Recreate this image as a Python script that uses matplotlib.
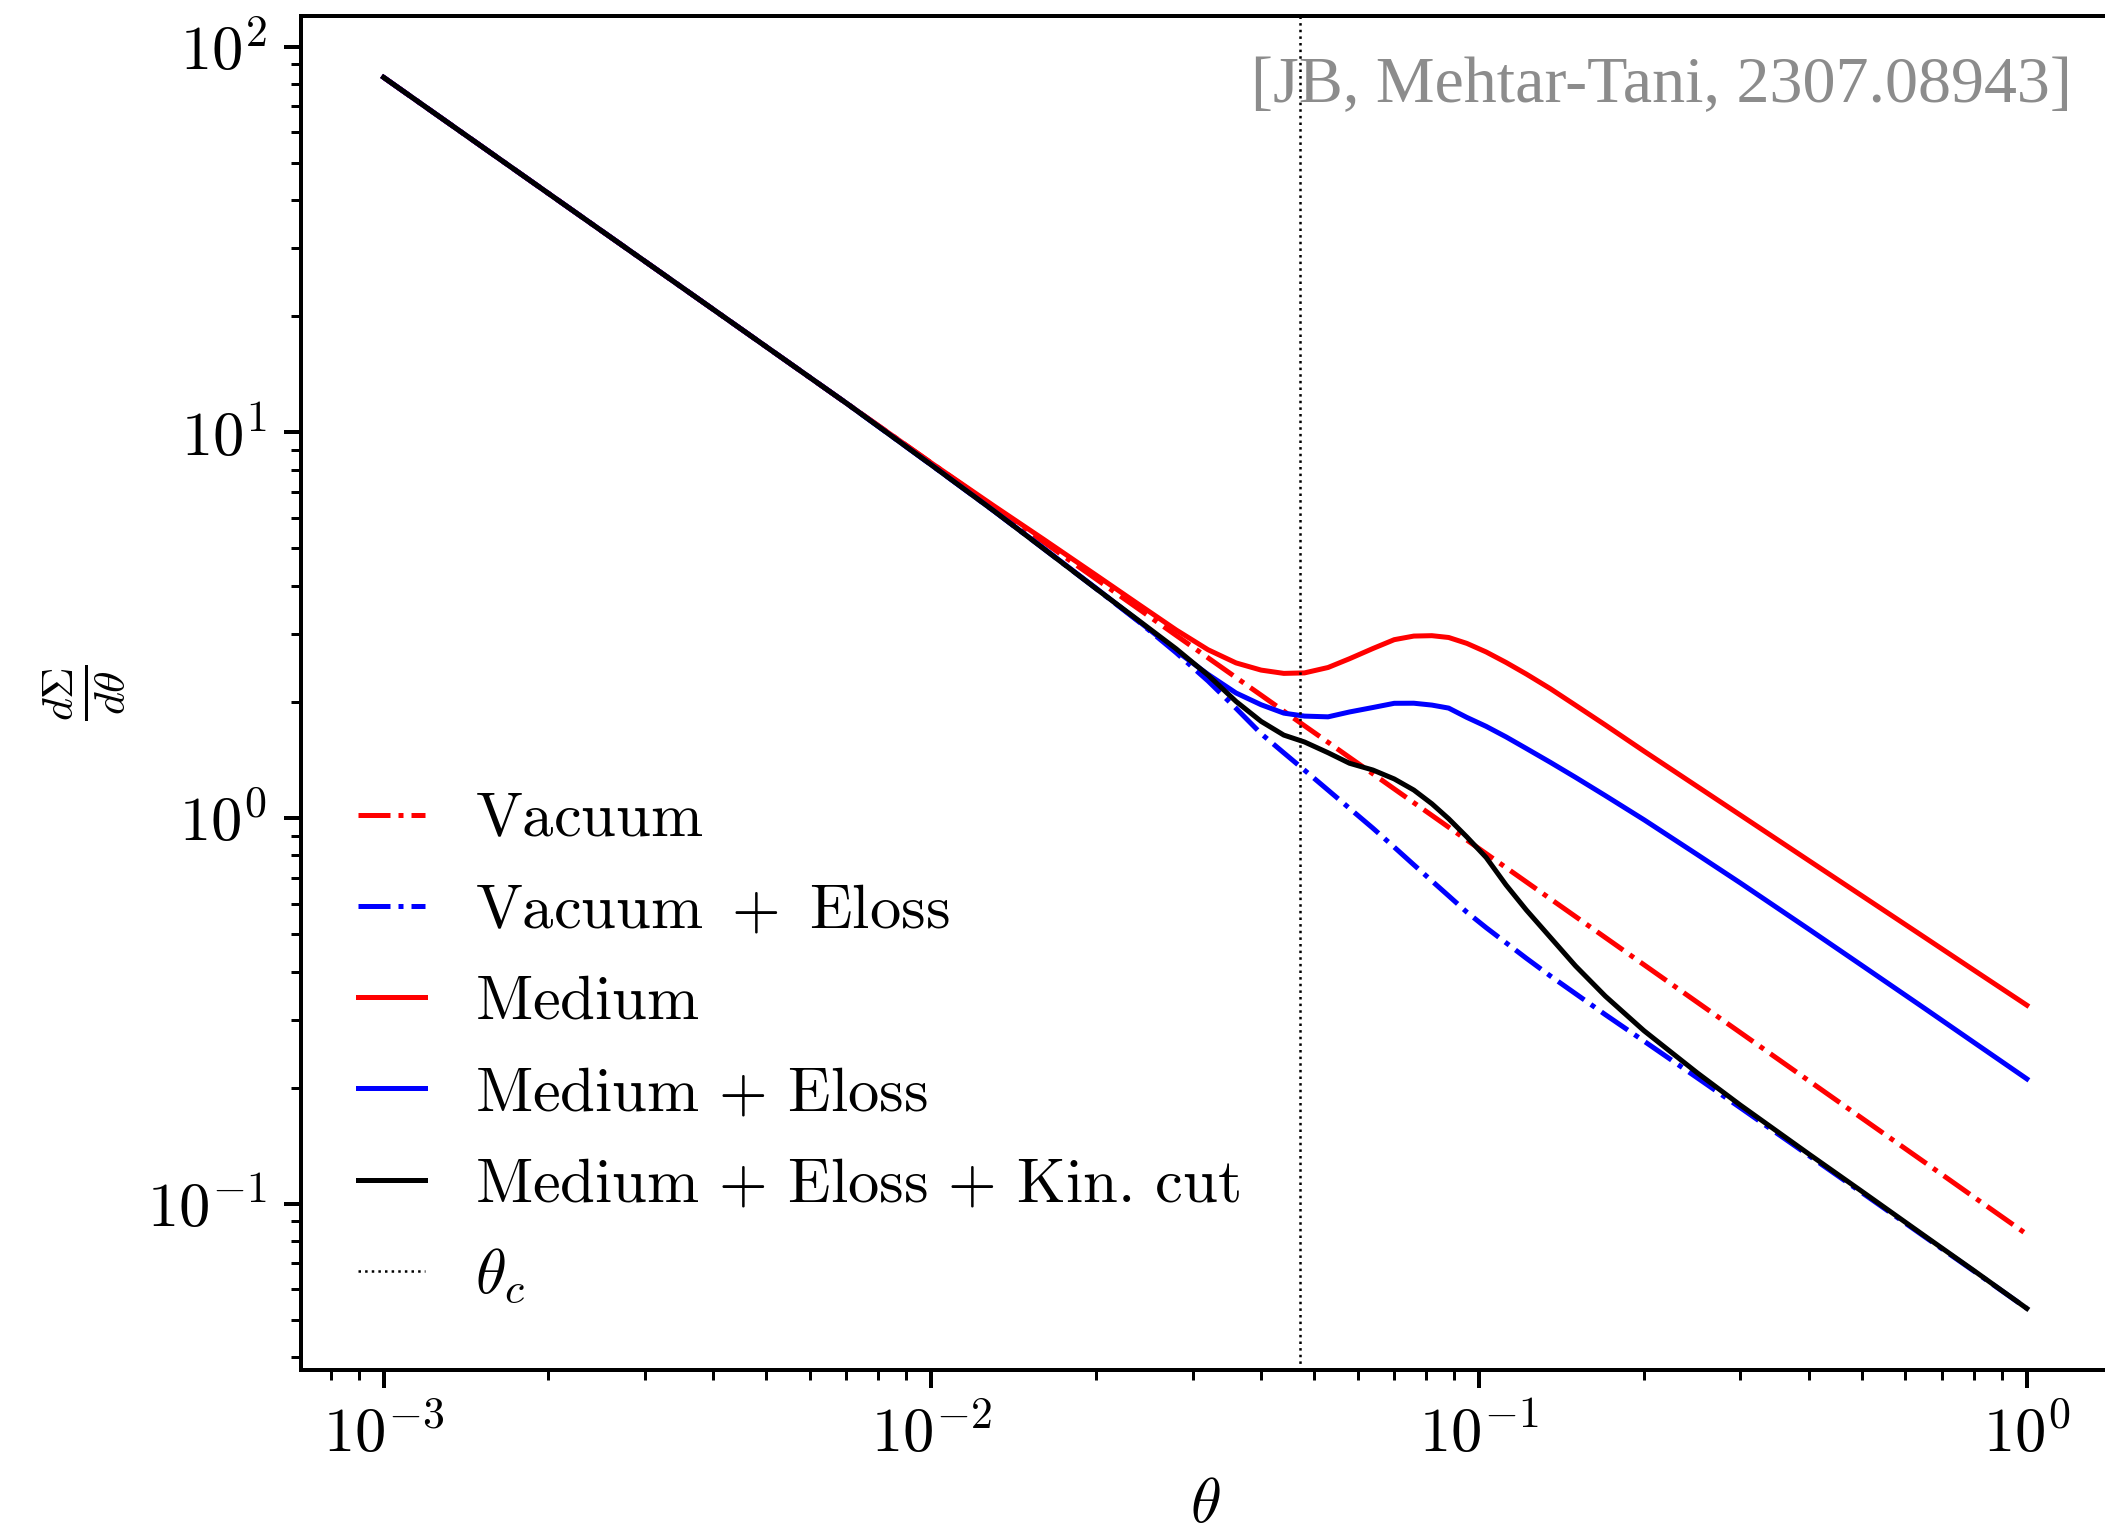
import matplotlib
matplotlib.use("Agg")
import matplotlib.pyplot as plt
import matplotlib.ticker as mticker
import numpy as np

plt.rcParams["mathtext.fontset"] = "cm"

# Angular distribution dSigma/dtheta for the different configurations
theta = [0.001, 0.002, 0.004, 0.007, 0.01, 0.013, 0.016, 0.02, 0.024, 0.028,
         0.032, 0.036, 0.04, 0.044, 0.048, 0.053, 0.058, 0.064, 0.07, 0.076,
         0.082, 0.088, 0.095, 0.103, 0.112, 0.122, 0.135, 0.15, 0.17, 0.2,
         0.25, 0.3, 0.4, 0.5, 0.65, 0.8, 1.0]

vacuum = [83.3, 41.65, 20.83, 11.90, 8.33, 6.408, 5.206, 4.165, 3.471, 2.975,
          2.603, 2.314, 2.083, 1.893, 1.735, 1.572, 1.436, 1.302, 1.190, 1.096,
          1.016, 0.9466, 0.8768, 0.8087, 0.7438, 0.6828, 0.6170, 0.5553, 0.4900, 0.4165,
          0.3332, 0.2777, 0.2083, 0.1666, 0.1282, 0.1041, 0.0833]

vacuum_eloss = [83.3, 41.65, 20.83, 11.90, 8.235, 6.262, 5.006, 3.932, 3.217, 2.682,
                2.267, 1.925, 1.655, 1.476, 1.331, 1.1815, 1.0596, 0.9411, 0.8405, 0.7565,
                0.6869, 0.6283, 0.5700, 0.5198, 0.4748, 0.4328, 0.3893, 0.3504, 0.3092, 0.2640,
                0.2122, 0.1773, 0.1333, 0.1068, 0.0822, 0.0669, 0.0535]

medium = [83.3, 41.65, 20.83, 11.90, 8.33, 6.452, 5.291, 4.262, 3.568, 3.073,
          2.732, 2.525, 2.419, 2.372, 2.379, 2.457, 2.589, 2.752, 2.901, 2.964,
          2.971, 2.939, 2.837, 2.696, 2.532, 2.362, 2.164, 1.961, 1.743, 1.491,
          1.2084, 1.0176, 0.7757, 0.6287, 0.4910, 0.4035, 0.3271]

medium_eloss = [83.3, 41.65, 20.83, 11.90, 8.235, 6.262, 5.017, 3.941, 3.225, 2.713,
                2.358, 2.110, 1.967, 1.871, 1.838, 1.830, 1.884, 1.935, 1.984, 1.985,
                1.963, 1.928, 1.8235, 1.729, 1.6235, 1.5146, 1.3940, 1.2750, 1.1434, 0.9899,
                0.8048, 0.6785, 0.5149, 0.4147, 0.3213, 0.2621, 0.2107]

kin_cut = [83.3, 41.65, 20.83, 11.90, 8.235, 6.262, 5.006, 3.932, 3.239, 2.745,
           2.347, 2.006, 1.781, 1.641, 1.575, 1.477, 1.387, 1.332, 1.263, 1.182,
           1.089, 0.9958, 0.8931, 0.7903, 0.6706, 0.5772, 0.4901, 0.4135, 0.3453, 0.2809,
           0.2186, 0.1801, 0.1345, 0.1076, 0.0826, 0.0671, 0.0535]

theta_c = 0.0472

labels = [r"$\mathrm{Vacuum}$",
          r"$\mathrm{Vacuum}\ +\ \mathrm{Eloss}$",
          r"$\mathrm{Medium}$",
          r"$\mathrm{Medium}\,+\,\mathrm{Eloss}$",
          r"$\mathrm{Medium}\,+\,\mathrm{Eloss}\,+\,\mathrm{Kin.\,cut}$",
          r"$\theta_c$"]

DPI = 360
fig = plt.figure(figsize=(2105 / DPI, 1534 / DPI), dpi=DPI)
ax = fig.add_axes([0.1432, 0.1069, 1.0019 - 0.1432, 0.9897 - 0.1069])

fs = 12.5
lw = 1.0
ax.plot(theta, vacuum, color="red", ls="-.", lw=lw, label=labels[0])
ax.plot(theta, vacuum_eloss, color="blue", ls="-.", lw=lw, label=labels[1])
ax.plot(theta, medium, color="red", ls="-", lw=lw, label=labels[2])
ax.plot(theta, medium_eloss, color="blue", ls="-", lw=lw, label=labels[3])
ax.plot(theta, kin_cut, color="black", ls="-", lw=lw, label=labels[4])
ax.axvline(theta_c, color="black", ls=":", lw=0.5, label=labels[5])

ax.set_xscale("log")
ax.set_yscale("log")


def decade_label(v, pos):
    return r"$10^{%d}$" % int(round(np.log10(v)))


for axis in (ax.xaxis, ax.yaxis):
    axis.set_major_formatter(mticker.FuncFormatter(decade_label))
    axis.set_minor_formatter(mticker.NullFormatter())

ax.tick_params(labelsize=fs)
ax.set_xlabel(r"$\theta$", fontsize=fs, labelpad=2)
ax.set_ylabel(r"$\frac{d\Sigma}{d\theta}$", fontsize=fs)

ax.legend(loc="lower left", frameon=False, fontsize=fs, handlelength=1.07,
          borderaxespad=0.5, bbox_to_anchor=(0.0, 0.006))

fig.text(2072 / 2105, 1 - 102 / 1534, "[JB, Mehtar-Tani, 2307.08943]",
         ha="right", va="baseline", fontsize=13.2, color="#8c8c8c",
         family="Liberation Serif")

fig.savefig("out.png", dpi=DPI)
